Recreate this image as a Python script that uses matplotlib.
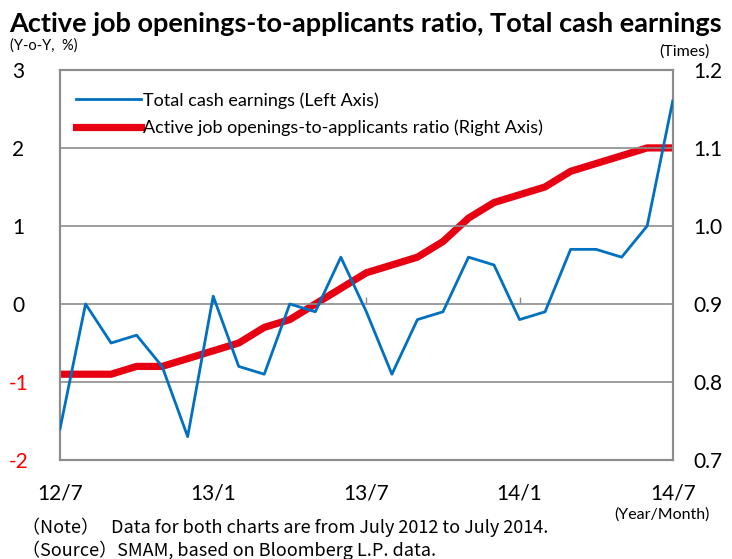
import numpy as np
import matplotlib.pyplot as plt

# monthly data, July 2012 to July 2014
months = ['12/7', '12/8', '12/9', '12/10', '12/11', '12/12',
          '13/1', '13/2', '13/3', '13/4', '13/5', '13/6',
          '13/7', '13/8', '13/9', '13/10', '13/11', '13/12',
          '14/1', '14/2', '14/3', '14/4', '14/5', '14/6', '14/7']
cash_earnings = [-1.6, 0.0, -0.5, -0.4, -0.8, -1.7,
                 0.1, -0.8, -0.9, 0.0, -0.1, 0.6,
                 -0.1, -0.9, -0.2, -0.1, 0.6, 0.5,
                 -0.2, -0.1, 0.7, 0.7, 0.6, 1.0, 2.6]
job_ratio = [0.81, 0.81, 0.81, 0.82, 0.82, 0.83,
             0.84, 0.85, 0.87, 0.88, 0.90, 0.92,
             0.94, 0.95, 0.96, 0.98, 1.01, 1.03,
             1.04, 1.05, 1.07, 1.08, 1.09, 1.10, 1.10]
label_months = ['12/7', '13/1', '13/7', '14/1', '14/7']
left_ticks = [-2, -1, 0, 1, 2, 3]
right_ticks = [0.7, 0.8, 0.9, 1.0, 1.1, 1.2]

plt.rcParams['font.family'] = ['Lato', 'DejaVu Sans']
gray = '#8c8c8c'

fig = plt.figure(figsize=(7.32, 5.59), dpi=100)
ax = fig.add_axes([0.082, 0.177, 0.837, 0.698])
ax2 = ax.twinx()

x = np.arange(len(months))
l1, = ax.plot(x, cash_earnings, color='#0070C0', lw=2.0, zorder=3,
              label='Total cash earnings (Left Axis)')
l2, = ax2.plot(x, job_ratio, color='#E60012', lw=5.2, zorder=2,
               label='Active job openings-to-applicants ratio (Right Axis)')
ax.set_zorder(ax2.get_zorder() + 1)
ax.patch.set_visible(False)

ax.set_xlim(0, len(months) - 1)
ax.set_ylim(-2, 3)
ax2.set_ylim(0.7, 1.2)

for v in [-1, 0, 1, 2]:
    ax.axhline(v, color=gray, lw=1.2, zorder=1)

ax.set_yticks(left_ticks)
ax.set_yticklabels([str(t) for t in left_ticks], fontsize=15)
for lab, t in zip(ax.get_yticklabels(), left_ticks):
    lab.set_horizontalalignment('center')
    if t < 0:
        lab.set_color('#FF0000')
ax.tick_params(axis='y', length=0, pad=30)
ax2.set_yticks(right_ticks)
ax2.set_yticklabels([f'{t:.1f}' for t in right_ticks], fontsize=15)
ax2.tick_params(axis='y', length=0, pad=15)

ax.set_xticks([months.index(m) for m in label_months])
ax.set_xticklabels(label_months, fontsize=15)
ax.tick_params(axis='x', length=0, pad=17)

# small tick marks on the zero line
sec = ax.secondary_xaxis(0.4)
sec.set_xticks([months.index(m) for m in label_months[1:-1]])
sec.set_xticklabels([])
sec.tick_params(axis='x', direction='in', length=5, color=gray, width=1)
sec.spines['bottom'].set_visible(False)

for a in (ax, ax2):
    for s in a.spines.values():
        s.set_color(gray)
        s.set_linewidth(1.5)

ax.legend(handles=[l1, l2], loc='upper left', bbox_to_anchor=(0.0, 0.985),
          frameon=False, fontsize=13, handlelength=3.6, handletextpad=0.1,
          labelspacing=0.6)

fig.text(0.012, 0.957, 'Active job openings-to-applicants ratio, Total cash earnings',
         fontsize=19.5, fontweight='bold', va='center')
fig.text(0.014, 0.918, '(Y-o-Y,  %)', fontsize=10.5, va='center')
fig.text(0.97, 0.908, '(Times)', fontsize=11.5, va='center', ha='right')
fig.text(0.97, 0.079, '(Year/Month)', fontsize=11.5, va='center', ha='right')
fig.text(0.03, 0.057, '\uff08Note\uff09   Data for both charts are from July 2012 to July 2014.',
         fontsize=13, va='center', family=['Noto Sans CJK JP', 'Lato'])
fig.text(0.03, 0.016, '\uff08Source\uff09SMAM, based on Bloomberg L.P. data.',
         fontsize=13, va='center', family=['Noto Sans CJK JP', 'Lato'])

fig.savefig('out.png', dpi=100)
